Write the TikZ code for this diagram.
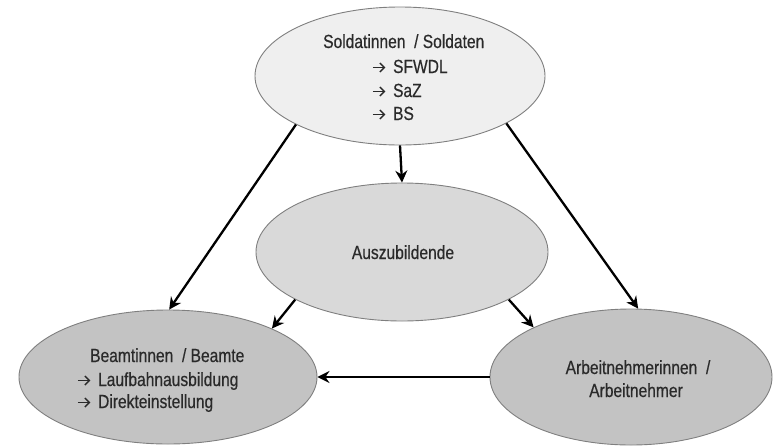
\documentclass[tikz,border=0pt]{standalone}
\usepackage{fontspec}
\setmainfont{Liberation Sans}[FakeStretch=0.82,FakeBold=0.5]
\usetikzlibrary{shapes.geometric,arrows.meta}
\definecolor{topfill}{HTML}{EFEFEF}
\definecolor{midfill}{HTML}{D9D9D9}
\definecolor{lowfill}{HTML}{C3C3C3}
\definecolor{rim}{HTML}{7F7F7F}
\definecolor{ink}{HTML}{2A2A2A}
\newcommand{\rarr}{\tikz[baseline=0pt,x=1pt,y=1pt]\draw[line width=1.4pt,ink,-{Straight Barb[length=4.5pt,width=9pt]}] (0,5.5) -- (12.5,5.5);\hspace{7pt}}
\tikzset{
  oval/.style={ellipse, draw=rim, line width=0.9pt, inner sep=0pt},
  txt/.style={inner sep=0pt, text=ink, font=\fontsize{19}{24}\selectfont},
  link/.style={line width=2.3pt, -{Stealth[length=12pt,width=12pt,inset=4pt]}}
}
\begin{document}
\begin{tikzpicture}[x=1pt,y=-1pt]
\useasboundingbox (0,0) rectangle (774,445);
% ellipses
\node[oval, fill=topfill, minimum width=290pt, minimum height=138pt] (sol) at (400,76) {};
\node[oval, fill=midfill, minimum width=292pt, minimum height=138pt] (azu) at (402,252) {};
\node[oval, fill=lowfill, minimum width=298pt, minimum height=134pt] (bea) at (168,377) {};
\node[oval, fill=lowfill, minimum width=282pt, minimum height=136pt] (arb) at (631,377) {};
% texts
\node[txt, anchor=base west] (s1) at (323,48) {Soldatinnen~ / Soldaten};
\node[txt, anchor=base west] (s2) at (372,73) {\rarr SFWDL};
\node[txt, anchor=base west] (s3) at (372,97) {\rarr SaZ};
\node[txt, anchor=base west] (s4) at (372,120) {\rarr BS};
\node[txt, anchor=base] (a1) at (403,259) {Auszubildende};
\node[txt, anchor=base west] (b1) at (90,362) {Beamtinnen~ / Beamte};
\node[txt, anchor=base west] (b2) at (77,386) {\rarr Laufbahnausbildung};
\node[txt, anchor=base west] (b3) at (77,408) {\rarr Direkteinstellung};
\node[txt, anchor=base] (r1) at (638,374) {Arbeitnehmerinnen~ /};
\node[txt, anchor=base] (r2) at (636,397) {Arbeitnehmer};
% connectors
\draw[link] (sol.south) -- (azu.north);
\draw[link] (sol.205.9) -- (bea.89.2);
\draw[link] (sol.336.2) -- (arb.84.2);
\draw[link] (azu.204.5) -- (bea.25.5);
\draw[link] (azu.336.5) -- (arb.153);
\draw[link] (arb.west) -- (bea.east);
\end{tikzpicture}
\end{document}
